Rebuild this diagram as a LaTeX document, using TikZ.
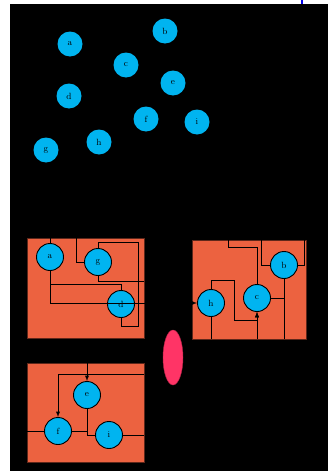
\documentclass[tikz,border=0pt]{standalone}
\usetikzlibrary{arrows,calc,shapes.geometric}
\definecolor{NodeClr}{RGB}{0,180,240}
\definecolor{BoxClr}{RGB}{236,98,64}
\definecolor{BlobClr}{RGB}{255,52,102}
\definecolor{TickClr}{RGB}{0,0,230}

\begin{document}
\begin{tikzpicture}[x=1pt,y=-1pt,
  vtx/.style={circle,fill=NodeClr,minimum size=25pt,inner sep=0pt,font=\fontsize{9}{10}\selectfont},
  boxvtx/.style={vtx,draw=black,line width=0.9pt,minimum size=27pt},
  wire/.style={line width=0.9pt,draw=black},
  panel/.style={fill=BoxClr,draw=black!60!BoxClr,line width=0.6pt}]
\useasboundingbox (0,0) rectangle (328,471);
\fill[black] (10,4) rectangle (328,471);
\draw[TickClr,line width=1.6pt] (302,0) -- (302,4);

\node[vtx] (ta) at (70,44) {a};
\node[vtx] (tb) at (165,31) {b};
\node[vtx] (tc) at (126,65) {c};
\node[vtx] (td) at (69,96) {d};
\node[vtx] (te) at (173,83) {e};
\node[vtx] (tf) at (146,119) {f};
\node[vtx] (ti) at (197,122) {i};
\node[vtx] (th) at (99,142) {h};
\node[vtx] (tg) at (46,150) {g};

\filldraw[panel] (27,238) rectangle (144,338);
\filldraw[panel] (192,240) rectangle (306,339);
\filldraw[panel] (27,363) rectangle (144,462);

\node[ellipse,fill=BlobClr,draw=black!30!BlobClr,minimum width=20pt,minimum height=55pt,inner sep=0pt] (blob) at (173,357.5) {};

\coordinate (ua) at (50,238);
\coordinate (ug) at (76,238);
\coordinate (rg) at (144,281);
\coordinate (uc) at (228,240);
\coordinate (ub1) at (261,240);
\coordinate (ub2) at (304,240);
\coordinate (lb) at (284,339);
\coordinate (lc) at (257,339);
\coordinate (lh) at (211,339);
\coordinate (ue) at (87,363);
\coordinate (rf) at (144,374);
\coordinate (lf) at (27,431);
\coordinate (ri) at (144,435);

\node[boxvtx] (a) at (50,257) {a};
\node[boxvtx] (g) at (98,262) {g};
\node[boxvtx] (d) at (121,304) {d};
\node[boxvtx] (h) at (211,303) {h};
\node[boxvtx] (c) at (257,298) {c};
\node[boxvtx] (b) at (284,265) {b};
\node[boxvtx] (e) at (87,395) {e};
\node[boxvtx] (f) at (58,431) {f};
\node[boxvtx] (i) at (109,435) {i};

\draw[wire] (a.north) -- (ua);
\draw[wire] (g.west) -| (ug);
\draw[wire] (g.north) -- ++(0,-6) -| (138,326) -| (d.south);
\draw[wire] (g.south) |- (rg);
\draw[wire] (a.south) -- ++(0,13) -| (d.north);
\draw[wire,-latex] (a.south) |- (h.west);

\draw[wire] (c.north) |- (uc |- 0,247) -- (uc);
\draw[wire] (b.west) -| (ub1);
\draw[wire] (b.east) -| (ub2);
\draw[wire] (b.south) -- (lb);
\draw[wire] (c.east) -- (c.east -| b.south);
\draw[wire,-latex] (h.north) -- ++(0,-9) -| (234,320) -| (c.south);
\draw[wire,-latex] (lc) -- (c.south);
\draw[wire] (h.south) -- (lh);

\draw[wire,-latex] (ue) -- (e.north);
\draw[wire,-latex] (rf) -| (f.north);
\draw[wire] (lf) -- (f.west);
\draw[wire] (f.east) -- (f.east -| e.south);
\draw[wire] (e.south) |- (i.west);
\draw[wire] (i.east) -- (ri);
\end{tikzpicture}
\end{document}
